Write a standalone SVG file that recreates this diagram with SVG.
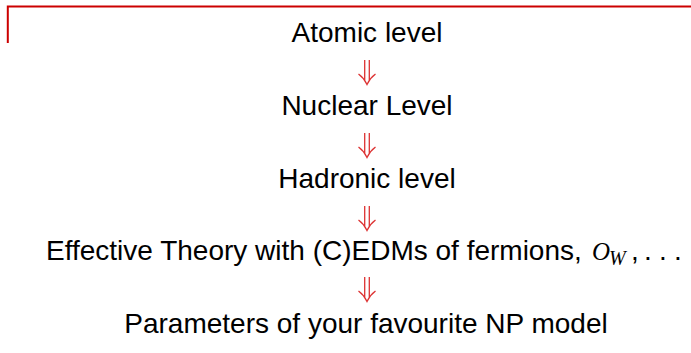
<svg xmlns="http://www.w3.org/2000/svg" xmlns:xlink="http://www.w3.org/1999/xlink" width="691" height="353" viewBox="0 0 691 353">
<style>
.lbl{font-family:"Liberation Sans","DejaVu Sans",sans-serif;font-size:28px;fill:#000;}
.mid{text-anchor:middle;}
.math{font-family:"Liberation Serif",serif;font-style:italic;}
.arr{fill:none;stroke:#dd3333;stroke-width:1.3;}
.frame{fill:none;stroke:#cc0000;stroke-width:2;}
</style>
<defs>
<g id="dbl">
<path class="arr" d="M-2.3,0 V21 M2.3,0 V21 M-8.5,14 Q-3,18 0,24.5 Q3,18 8.5,14"/>
</g>
</defs>
<path class="frame" d="M7.8,43 V6.5 H691"/>
<g id="connectors">
<use xlink:href="#dbl" x="367" y="60"/>
<use xlink:href="#dbl" x="367" y="133"/>
<use xlink:href="#dbl" x="367" y="206"/>
<use xlink:href="#dbl" x="367" y="277"/>
</g>
<g id="atomic"><text class="lbl mid" x="367" y="42">Atomic level</text></g>
<g id="nuclear"><text class="lbl mid" x="367" y="115">Nuclear Level</text></g>
<g id="hadronic"><text class="lbl mid" x="367" y="187.5">Hadronic level</text></g>
<g id="effective"><text class="lbl" x="46" y="260">Effective Theory with (C)EDMs of fermions, <tspan class="math" x="592" font-size="25">O</tspan><tspan class="math" x="609" y="265" font-size="20">W</tspan><tspan x="631" y="260">,</tspan><tspan x="644">.</tspan><tspan x="659">.</tspan><tspan x="674">.</tspan></text></g>
<g id="params"><text class="lbl mid" x="366" y="333">Parameters of your favourite NP model</text></g>
</svg>
